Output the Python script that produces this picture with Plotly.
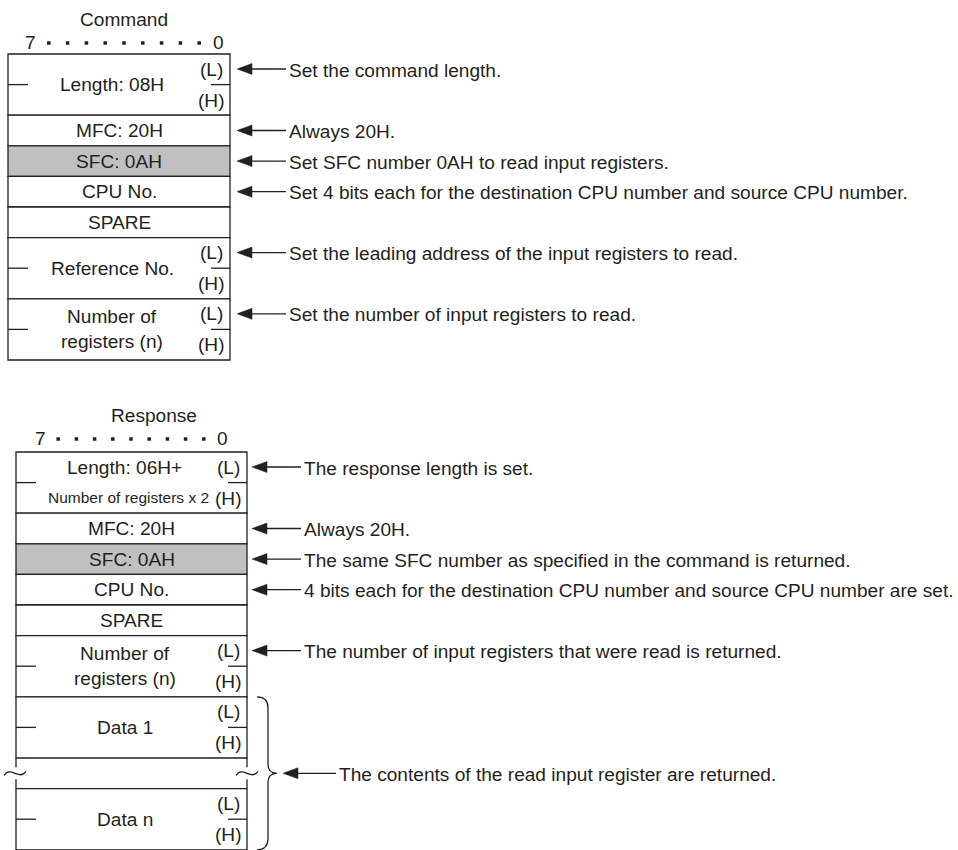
import numpy as np
import plotly.graph_objects as go

# ---- frame contents ----
cmd_title = "Command"
cmd_fields = ["Length: 08H", "MFC: 20H", "SFC: 0AH", "CPU No.", "SPARE",
              "Reference No.", "Number of\nregisters (n)"]
cmd_bytes = [2, 1, 1, 1, 1, 2, 2]
cmd_notes = ["Set the command length.",
             "Always 20H.",
             "Set SFC number 0AH to read input registers.",
             "Set 4 bits each for the destination CPU number and source CPU number.",
             "",
             "Set the leading address of the input registers to read.",
             "Set the number of input registers to read."]

resp_title = "Response"
resp_fields = ["Length: 06H+\nNumber of registers x 2", "MFC: 20H", "SFC: 0AH", "CPU No.",
               "SPARE", "Number of\nregisters (n)", "Data 1", "~", "Data n"]
resp_bytes = [2, 1, 1, 1, 1, 2, 2, 1, 2]
resp_notes = ["The response length is set.",
              "Always 20H.",
              "The same SFC number as specified in the command is returned.",
              "4 bits each for the destination CPU number and source CPU number are set.",
              "",
              "The number of input registers that were read is returned.",
              "", "", ""]
data_note = "The contents of the read input register are returned."

shaded_field = "SFC: 0AH"
bit_labels = ["7", "0"]
n_dots = 9

INK = "#231f20"
FONT = "Liberation Sans, Arial, sans-serif"
FS = 19.1
U = 30.6  # height of one byte row in px
LW = 1.3

fig = go.Figure()


def text(x, y, s, size=FS, anchor="center"):
    fig.add_annotation(x=x, y=y, text=s, showarrow=False, xanchor=anchor,
                       yanchor="middle", font=dict(family=FONT, size=size, color=INK))


def line(x0, y0, x1, y1):
    fig.add_shape(type="line", x0=x0, y0=y0, x1=x1, y1=y1,
                  line=dict(color=INK, width=LW))


def arrow(tip, y, note_x, note):
    fig.add_shape(type="path",
                  path=f"M{tip},{y} L{tip + 15},{y - 5.5} L{tip + 15},{y + 5.5} Z",
                  fillcolor=INK, line=dict(color=INK, width=0.5))
    line(tip + 14, y, note_x - 1, y)
    text(note_x, y + 1, note, anchor="left")


def tilde(cx, cy):
    fig.add_shape(type="path",
                  path=f"M{cx - 11},{cy + 2} C{cx - 4},{cy - 8} {cx + 4},{cy + 8} {cx + 11},{cy - 2}",
                  line=dict(color=INK, width=LW))


def frame(title, fields, nbytes, notes, left, right, top, b7, b0, title_x, title_y, tip, note_x):
    text(title_x, title_y, title)
    text(b7, title_y + 23, bit_labels[0])
    text(b0, title_y + 23, bit_labels[1])
    xs = np.linspace(b7, b0, n_dots + 2)[1:-1]
    fig.add_trace(go.Scatter(x=xs, y=[title_y + 24] * n_dots, mode="markers",
                             marker=dict(symbol="square", size=3.5, color=INK),
                             hoverinfo="skip"))
    cx = (left + right) / 2
    y = top
    rows = []
    for field, nb, note in zip(fields, nbytes, notes):
        y0, y1 = y, y + nb * U
        mid = (y0 + y1) / 2
        rows.append((y0, y1))
        if field == "~":
            # broken frame edges
            for ex in (left, right):
                line(ex, y0, ex, mid - 6)
                line(ex, mid + 6, ex, y1)
                tilde(ex - 1 if ex == left else ex, mid)
        else:
            fill = "#c0c0c0" if field == shaded_field else "white"
            fig.add_shape(type="rect", x0=left, x1=right, y0=y0, y1=y1,
                          fillcolor=fill, line=dict(color=INK, width=LW), layer="below")
            lines = field.split("\n")
            if nb == 2:
                line(left, mid, left + 20, mid)
                line(right - 19, mid, right, mid)
                text(right - 19, y0 + 15, "(L)")
                text(right - 19, y0 + 46, "(H)")
                small = any(s.startswith("Number of registers x") for s in lines)
                gap = 30 if small else 25
                for i, s in enumerate(lines):
                    size = 15.5 if s.startswith("Number of registers x") else FS
                    dx = -3 if size < FS else -7
                    text(cx + dx, mid + (i - (len(lines) - 1) / 2) * gap, s, size=size)
            else:
                text(cx, mid, field)
        if note:
            arrow(tip, y0 + 15 if nb == 2 else mid, note_x, note)
        y = y1
    return rows


frame(cmd_title, cmd_fields, cmd_bytes, cmd_notes,
      8, 230, 54, 30, 218, 124, 19, 237, 287)
rows = frame(resp_title, resp_fields, resp_bytes, resp_notes,
             16, 247, 452, 40, 222, 154, 415, 252, 302)

# brace around Data 1 .. Data n
ytop, ybot = rows[6][0], rows[8][1]
ymid = (rows[7][0] + rows[7][1]) / 2
bx = 257
fig.add_shape(type="path",
              path=(f"M{bx},{ytop} Q{bx + 11},{ytop} {bx + 11},{ytop + 11} "
                    f"L{bx + 11},{ymid - 9} Q{bx + 11},{ymid} {bx + 20},{ymid} "
                    f"Q{bx + 11},{ymid} {bx + 11},{ymid + 9} "
                    f"L{bx + 11},{ybot - 11} Q{bx + 11},{ybot} {bx},{ybot}"),
              line=dict(color=INK, width=LW))
arrow(283, ymid, 337, data_note)

fig.update_layout(
    width=958, height=850,
    margin=dict(l=0, r=0, t=0, b=0),
    plot_bgcolor="white", paper_bgcolor="white",
    showlegend=False,
    xaxis=dict(range=[0, 958], visible=False, fixedrange=True),
    yaxis=dict(range=[850, 0], visible=False, fixedrange=True),
)

# page margin off so the figure sits at the window's top-left corner
fig.write_html("out.html", config={"displayModeBar": False},
               post_script="document.body.style.margin='0px';")
